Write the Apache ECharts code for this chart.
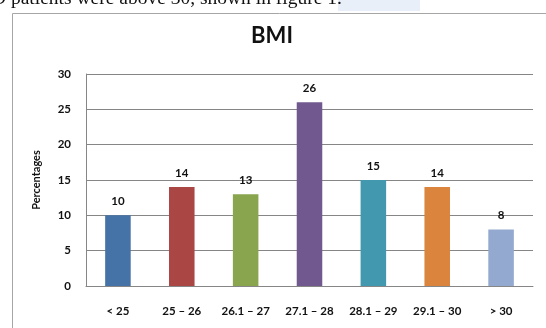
<!DOCTYPE html>
<html><head><meta charset="utf-8">
<script src="https://cdn.jsdelivr.net/npm/echarts@6/dist/echarts.min.js"></script>
<style>html,body{margin:0;padding:0;background:#fff}#c{width:546px;height:328px}</style>
</head><body><div id="c"></div>
<script>
const categories = ['< 25', '25 – 26', '26.1 – 27', '27.1 – 28', '28.1 – 29', '29.1 – 30', '> 30'];
const values = [10, 14, 13, 26, 15, 14, 8];
const barColors = ['#4572A7', '#AA4643', '#89A54E', '#71588F', '#4198AF', '#DB843D', '#93A9CF'];
const titleText = 'BMI';
const yAxisName = 'Percentages';
const captionText = 'D patients were above 30, shown in figure 1.';

const chart = echarts.init(document.getElementById('c'));
const font = 'Lato, "Open Sans", sans-serif';
chart.setOption({
  animation: false,
  graphic: [
    { type: 'rect', left: 338, top: 0, shape: { width: 82, height: 11 }, style: { fill: '#e9eff8' }, z: 0 },
    { type: 'text', left: -8, top: -11, style: { text: captionText, font: '19.5px "Liberation Serif", "Times New Roman", serif', fill: '#111' }, z: 1 },
    { type: 'rect', left: 10, top: 11, shape: { width: 600, height: 400 }, style: { fill: 'none', stroke: '#a6a6a6', lineWidth: 1 }, z: 1 }
  ],
  title: {
    text: titleText, left: 267, top: 20, textAlign: 'center',
    textStyle: { fontFamily: font, fontSize: 22, fontWeight: 'bold', color: '#111' }
  },
  grid: { left: 86, right: 13, top: 74, bottom: 42, containLabel: false },
  xAxis: {
    type: 'category', data: categories,
    axisLine: { lineStyle: { color: '#868686' } },
    axisTick: { show: false },
    axisLabel: { margin: 19, color: '#111', fontFamily: font, fontSize: 11.5, fontWeight: 'bold', interval: 0 }
  },
  yAxis: {
    type: 'value', min: 0, max: 30, interval: 5,
    name: yAxisName, nameLocation: 'middle', nameGap: 44, nameRotate: 90,
    nameTextStyle: { color: '#111', fontFamily: font, fontSize: 11, fontWeight: 'bold' },
    axisLine: { show: true, lineStyle: { color: '#868686' } },
    axisTick: { show: false },
    axisLabel: { margin: 15, color: '#111', fontFamily: font, fontSize: 11.5, fontWeight: 'bold' },
    splitLine: { lineStyle: { color: '#868686', width: 1 } }
  },
  series: [{
    type: 'bar', barWidth: '40%',
    data: values.map((v, i) => ({ value: v, itemStyle: { color: barColors[i] } })),
    label: { show: true, position: 'top', distance: 8, color: '#111', fontFamily: font, fontSize: 11.5, fontWeight: 'bold' }
  }]
});
</script></body></html>
